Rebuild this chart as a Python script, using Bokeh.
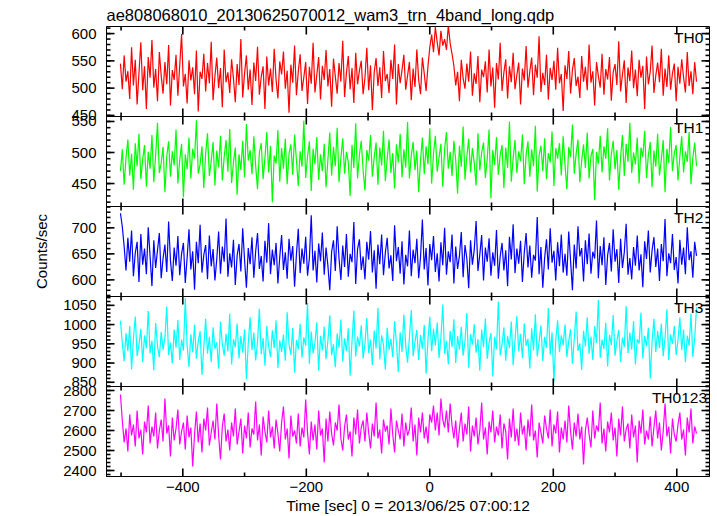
import numpy as np
from bokeh.plotting import figure
from bokeh.models import LinearAxis, Range1d, Label, FixedTicker
from bokeh.layouts import column
from bokeh.embed import file_html
from bokeh.resources import INLINE

# ---------------- data ----------------
title_text = "ae808068010_20130625070012_wam3_trn_4band_long.qdp"
x_label = "Time [sec] 0 = 2013/06/25 07:00:12"
y_label = "Counts/sec"

bin_start = -501.0   # time of first bin [s]
bin_width = 3.0      # bin size [s]

th0 = [
    545, 498, 560, 512, 531, 480, 575, 505, 552, 470, 528, 584,
    496, 540, 462, 557, 519, 588, 501, 535, 476, 566, 523, 490,
    548, 507, 579, 468, 533, 515, 561, 486, 542, 599, 503, 526,
    472, 551, 514, 538, 489, 569, 457, 530, 517, 563, 494, 546,
    509, 585, 478, 522, 556, 500, 537, 465, 571, 511, 529, 491,
    553, 518, 474, 544, 506, 590, 483, 527, 560, 497, 534, 469,
    547, 513, 576, 488, 521, 540, 462, 558, 505, 536, 493, 572,
    516, 481, 549, 525, 567, 499, 532, 455, 543, 510, 578, 487,
    530, 562, 495, 520, 548, 471, 539, 508, 583, 492, 524, 557,
    479, 541, 515, 570, 503, 535, 466, 554, 521, 490, 546, 512,
    587, 484, 528, 559, 498, 537, 473, 565, 507, 532, 550, 489,
    519, 574, 496, 542, 460, 529, 555, 504, 538, 482, 568, 513,
    526, 491, 552, 517, 580, 470, 544, 509, 533, 561, 497, 523,
    548, 478, 536, 502, 571, 515, 489, 556, 527, 495, 540, 575,
    598, 566, 612, 584, 560, 605, 578, 590, 570, 615, 582, 563,
    541, 505, 530, 476, 552, 518, 499, 545, 512, 567, 486, 527,
    508, 559, 474, 534, 520, 549, 492, 571, 503, 538, 464, 546,
    516, 583, 495, 529, 553, 481, 540, 511, 565, 498, 524, 547,
    470, 536, 514, 577, 501, 531, 556, 487, 543, 519, 595, 493,
    528, 506, 561, 479, 537, 515, 550, 497, 574, 509, 526, 458,
    542, 517, 568, 490, 533, 555, 504, 521, 482, 559, 512, 539,
    496, 580, 510, 531, 468, 548, 522, 501, 563, 488, 535, 516,
    557, 477, 529, 544, 506, 586, 494, 525, 551, 473, 538, 513,
    569, 500, 534, 485, 552, 519, 541, 462, 558, 507, 530, 578,
    491, 523, 547, 511, 572, 486, 536, 502, 560, 497, 527, 545,
    476, 539, 508, 553, 520, 492, 566, 504, 531, 489, 548, 512,
]

th1 = [
    470, 505, 448, 492, 521, 463, 498, 440, 515, 478, 530, 457,
    489, 512, 445, 501, 474, 528, 452, 496, 548, 467, 483, 509,
    436, 494, 518, 461, 502, 479, 537, 450, 488, 514, 428, 497,
    473, 524, 458, 506, 490, 552, 466, 481, 510, 443, 499, 531,
    462, 486, 517, 447, 503, 476, 527, 455, 493, 520, 469, 538,
    451, 484, 508, 432, 497, 472, 519, 460, 546, 487, 504, 465,
    526, 478, 441, 500, 515, 457, 491, 533, 468, 511, 420, 495,
    482, 536, 453, 507, 474, 522, 449, 498, 513, 464, 529, 488,
    446, 502, 477, 551, 459, 494, 518, 438, 506, 481, 525, 456,
    497, 470, 514, 444, 489, 532, 463, 509, 478, 540, 452, 491,
    523, 466, 501, 485, 430, 512, 475, 547, 458, 496, 519, 471,
    439, 504, 487, 528, 461, 493, 516, 448, 508, 479, 535, 454,
    490, 521, 467, 499, 442, 513, 484, 530, 460, 505, 476, 549,
    458, 495, 517, 472, 503, 436, 488, 524, 465, 510, 481, 539,
    450, 498, 527, 469, 492, 514, 445, 506, 533, 474, 501, 462,
    519, 487, 434, 511, 477, 542, 456, 494, 522, 468, 507, 483,
    447, 531, 471, 500, 516, 459, 489, 537, 426, 504, 480, 525,
    464, 496, 512, 443, 508, 475, 550, 453, 491, 520, 467, 502,
    486, 529, 449, 497, 518, 461, 505, 478, 543, 437, 495, 511,
    470, 523, 457, 499, 484, 534, 446, 507, 490, 515, 463, 526,
    480, 441, 509, 493, 545, 466, 498, 521, 452, 487, 513, 475,
    532, 458, 494, 506, 423, 501, 482, 527, 468, 510, 490, 539,
    455, 497, 519, 473, 504, 440, 492, 528, 462, 514, 485, 548,
    467, 500, 481, 524, 450, 508, 493, 535, 459, 496, 517, 444,
    503, 477, 530, 463, 489, 520, 436, 506, 483, 541, 470, 499,
    512, 455, 494, 526, 468, 502, 485, 533, 449, 491, 516, 478,
]

th2 = [
    728, 702, 664, 618, 681, 635, 695, 607, 652, 673, 596, 688,
    629, 660, 611, 701, 645, 588, 676, 623, 657, 690, 603, 641,
    668, 615, 712, 637, 598, 662, 627, 684, 609, 650, 671, 594,
    643, 697, 620, 655, 581, 673, 632, 706, 614, 648, 667, 601,
    685, 626, 659, 599, 640, 693, 612, 664, 635, 718, 606, 651,
    624, 677, 590, 647, 669, 616, 699, 638, 585, 661, 630, 682,
    604, 655, 690, 621, 646, 597, 675, 633, 709, 611, 658, 628,
    671, 593, 644, 686, 619, 653, 602, 679, 637, 665, 587, 649,
    698, 613, 660, 631, 683, 608, 642, 724, 618, 656, 595, 670,
    636, 691, 610, 662, 627, 580, 654, 676, 617, 703, 641, 600,
    666, 625, 688, 606, 650, 634, 711, 592, 659, 678, 619, 645,
    601, 673, 639, 694, 614, 657, 583, 668, 630, 687, 609, 652,
    681, 622, 647, 598, 705, 636, 663, 612, 674, 591, 648, 626,
    695, 607, 658, 632, 679, 603, 644, 716, 620, 661, 589, 669,
    638, 684, 615, 651, 597, 672, 628, 700, 610, 655, 634, 687,
    593, 664, 621, 646, 692, 605, 667, 641, 584, 676, 629, 658,
    713, 617, 649, 686, 599, 662, 635, 680, 608, 653, 627, 696,
    602, 645, 671, 618, 657, 588, 683, 639, 707, 613, 660, 631,
    675, 596, 652, 690, 624, 666, 604, 648, 637, 721, 611, 663,
    585, 642, 678, 620, 699, 633, 656, 599, 672, 626, 687, 614,
    650, 608, 693, 637, 580, 668, 622, 703, 645, 661, 597, 676,
    630, 689, 612, 654, 641, 714, 603, 665, 628, 682, 590, 647,
    671, 616, 697, 635, 659, 594, 679, 623, 653, 708, 610, 642,
    601, 663, 627, 685, 618, 649, 586, 674, 640, 695, 614, 657,
    682, 625, 660, 598, 669, 636, 717, 607, 651, 632, 688, 619,
    644, 593, 677, 629, 662, 611, 701, 638, 655, 604, 673, 646,
]

th3 = [
    1010, 952, 905, 978, 931, 996, 884, 963, 1021, 918, 947, 989,
    903, 972, 938, 1035, 926, 958, 881, 1004, 944, 915, 981, 935,
    966, 1047, 921, 953, 899, 987, 940, 1012, 908, 961, 932, 1069,
    946, 890, 975, 928, 1000, 911, 957, 983, 869, 942, 1015, 924,
    968, 902, 993, 937, 954, 885, 1008, 949, 919, 976, 930, 1028,
    896, 962, 941, 1003, 912, 970, 927, 988, 858, 951, 1019, 934,
    979, 907, 955, 1041, 923, 965, 893, 997, 943, 916, 985, 939,
    1011, 887, 959, 929, 974, 906, 1032, 948, 921, 991, 875, 960,
    936, 1002, 914, 967, 945, 1057, 898, 982, 925, 953, 1006, 880,
    971, 933, 995, 910, 958, 1024, 920, 949, 889, 977, 940, 1013,
    904, 964, 931, 990, 867, 956, 1036, 917, 969, 943, 998, 912,
    950, 1017, 926, 961, 895, 984, 938, 1044, 909, 972, 947, 883,
    992, 934, 963, 915, 1009, 952, 877, 980, 929, 1026, 944, 901,
    967, 1038, 918, 955, 986, 908, 973, 937, 999, 872, 960, 1020,
    931, 989, 946, 1005, 913, 966, 1052, 924, 958, 897, 983, 942,
    1014, 900, 970, 935, 994, 919, 957, 1030, 888, 975, 948, 1001,
    927, 962, 880, 987, 941, 1016, 911, 953, 978, 865, 968, 936,
    1060, 920, 949, 993, 906, 971, 939, 1008, 894, 960, 1022, 930,
    976, 913, 1003, 945, 963, 886, 990, 933, 1027, 917, 955, 998,
    905, 968, 940, 1043, 922, 980, 851, 959, 1011, 928, 972, 946,
    1000, 915, 957, 988, 898, 964, 1034, 932, 951, 882, 984, 943,
    1019, 924, 969, 908, 996, 952, 1064, 914, 961, 937, 1005, 891,
    973, 947, 1025, 919, 958, 986, 903, 966, 942, 1048, 926, 979,
    935, 1009, 896, 962, 951, 1031, 911, 970, 944, 992, 860, 956,
    1015, 929, 983, 939, 1002, 918, 965, 1040, 908, 974, 950, 997,
    921, 960, 1018, 934, 987, 902, 971, 945, 1029, 916, 963, 1045,
]

th0123 = [
    2780, 2650, 2540, 2610, 2495, 2680, 2575, 2630, 2520, 2700, 2560, 2605,
    2480, 2645, 2590, 2725, 2535, 2620, 2570, 2690, 2510, 2600, 2655, 2545,
    2760, 2585, 2625, 2470, 2665, 2550, 2610, 2705, 2530, 2595, 2640, 2505,
    2675, 2565, 2615, 2420, 2580, 2695, 2540, 2635, 2490, 2660, 2600, 2715,
    2525, 2590, 2650, 2555, 2735, 2575, 2455, 2620, 2685, 2545, 2605, 2500,
    2640, 2570, 2710, 2530, 2595, 2660, 2485, 2625, 2560, 2690, 2515, 2610,
    2580, 2745, 2550, 2630, 2475, 2670, 2595, 2540, 2700, 2565, 2620, 2510,
    2655, 2585, 2495, 2640, 2720, 2555, 2610, 2460, 2675, 2570, 2600, 2535,
    2685, 2520, 2615, 2565, 2755, 2590, 2480, 2645, 2550, 2630, 2505, 2700,
    2575, 2610, 2440, 2660, 2545, 2695, 2585, 2525, 2640, 2600, 2730, 2560,
    2500, 2620, 2680, 2555, 2595, 2470, 2665, 2580, 2705, 2535, 2615, 2650,
    2545, 2690, 2590, 2510, 2635, 2570, 2740, 2560, 2605, 2485, 2655, 2595,
    2625, 2530, 2710, 2580, 2490, 2650, 2600, 2555, 2685, 2520, 2640, 2575,
    2605, 2715, 2545, 2630, 2475, 2665, 2590, 2690, 2560, 2620, 2535, 2680,
    2640, 2725, 2600, 2690, 2575, 2760, 2655, 2615, 2700, 2590, 2735, 2625,
    2560, 2650, 2515, 2610, 2690, 2545, 2635, 2580, 2720, 2495, 2625, 2570,
    2665, 2530, 2600, 2740, 2555, 2615, 2480, 2645, 2590, 2700, 2540, 2620,
    2575, 2680, 2510, 2635, 2595, 2455, 2660, 2565, 2710, 2545, 2610, 2525,
    2690, 2580, 2625, 2500, 2655, 2570, 2730, 2550, 2600, 2465, 2640, 2590,
    2535, 2675, 2610, 2560, 2705, 2520, 2630, 2585, 2695, 2490, 2615, 2555,
    2650, 2540, 2725, 2595, 2505, 2640, 2570, 2685, 2555, 2620, 2430, 2600,
    2665, 2580, 2515, 2700, 2560, 2625, 2595, 2740, 2535, 2610, 2495, 2645,
    2590, 2690, 2550, 2615, 2470, 2660, 2575, 2720, 2545, 2605, 2635, 2510,
    2680, 2565, 2625, 2440, 2650, 2585, 2705, 2530, 2600, 2555, 2670, 2520,
    2615, 2700, 2560, 2640, 2500, 2595, 2735, 2570, 2620, 2485, 2660, 2580,
    2545, 2630, 2690, 2555, 2605, 2475, 2665, 2590, 2710, 2535, 2620, 2585,
]

band_names = ["TH0", "TH1", "TH2", "TH3", "TH0123"]
band_colors = ["#ff0000", "#00ff00", "#0000ff", "#00ffff", "#ff00ff"]
band_values = [th0, th1, th2, th3, th0123]
band_yranges = [(448, 613), (413, 558), (568, 741), (839, 1073), (2370, 2820)]
band_yticks = [[450, 500, 550, 600], [450, 500, 550], [600, 650, 700],
               [850, 900, 950, 1000, 1050], [2400, 2500, 2600, 2700, 2800]]
band_yminor_step = [10, 10, 10, 10, 20]

x_range_limits = (-523.6, 453.0)
x_ticks = [-400, -200, 0, 200, 400]
x_minor_ticks = [-500, -300, -100, 100, 300]
x_tick_labels = {-400: "\u2212400", -200: "\u2212200", 0: "0", 200: "200", 400: "400"}

# ---------------- drawing ----------------
FONT = "Liberation Sans"
time = bin_start + bin_width * np.arange(len(th0))
xr = Range1d(*x_range_limits)

LEFT = 106      # frame left edge in the page
RIGHT = 6
W = 709 + RIGHT
FRAME_H = 90
TOP = 26        # room for the title
BOTTOM = 40     # room for the time axis
PAD = 10        # transparent overlap so edge tick labels are not cut
MAJOR_LEN = 8   # inward tick lengths, screen px
MINOR_LEN = 4
TICK_W = 1.6


def no_ticks(ax):
    ax.major_tick_in = 0
    ax.major_tick_out = 0
    ax.minor_tick_in = 0
    ax.minor_tick_out = 0
    ax.axis_line_color = "black"
    ax.major_label_text_font = FONT
    ax.major_label_text_font_size = "15px"
    ax.major_label_text_color = "black"


def inward_ticks(p, positions, edge, horizontal, angle, length):
    """Tick marks drawn from a frame edge into the plot area."""
    if horizontal:
        xs, ys = [edge] * len(positions), positions
    else:
        xs, ys = positions, [edge] * len(positions)
    p.ray(x=xs, y=ys, length=length, length_units="screen", angle=angle,
          line_color="black", line_width=TICK_W, level="overlay")


figs = []
n = len(band_names)
for i in range(n):
    first = i == 0
    last = i == n - 1
    btop = TOP if first else PAD
    bbot = BOTTOM if last else PAD
    y0, y1 = band_yranges[i]
    p = figure(width=W, height=btop + FRAME_H + bbot, x_range=xr,
               y_range=Range1d(y0, y1),
               output_backend="svg", toolbar_location=None,
               x_axis_location=None, y_axis_location=None,
               min_border_left=LEFT, min_border_right=RIGHT,
               min_border_top=btop, min_border_bottom=bbot,
               margin=(0 if first else -2 * PAD, 0, 0, 0))
    p.border_fill_alpha = 0
    p.background_fill_color = "white"
    p.outline_line_color = "black"
    p.outline_line_width = 1
    p.grid.visible = False

    p.line(time, band_values[i], color=band_colors[i], line_width=1.2)

    yt = band_yticks[i]
    step = band_yminor_step[i]
    yminor = list(range(int(np.ceil(y0 / step) * step), int(y1) + 1, step))

    # tick marks on all four sides, pointing inward
    x0, x1 = x_range_limits
    inward_ticks(p, yminor, x0, True, 0.0, MINOR_LEN)
    inward_ticks(p, yt, x0, True, 0.0, MAJOR_LEN)
    inward_ticks(p, yminor, x1, True, np.pi, MINOR_LEN)
    inward_ticks(p, yt, x1, True, np.pi, MAJOR_LEN)
    inward_ticks(p, x_minor_ticks, y0, False, np.pi / 2, MINOR_LEN)
    inward_ticks(p, x_ticks, y0, False, np.pi / 2, MAJOR_LEN)
    inward_ticks(p, x_minor_ticks, y1, False, -np.pi / 2, MINOR_LEN)
    inward_ticks(p, x_ticks, y1, False, -np.pi / 2, MAJOR_LEN)

    left = LinearAxis(ticker=FixedTicker(ticks=yt, minor_ticks=yminor))
    no_ticks(left)
    left.major_label_standoff = 10
    if i == 2:
        left.axis_label = y_label
        left.axis_label_text_font = FONT
        left.axis_label_text_font_size = "15px"
        left.axis_label_text_font_style = "normal"
        left.axis_label_text_color = "black"
        left.axis_label_standoff = 18
    p.add_layout(left, "left")

    if last:
        bottom = LinearAxis(ticker=FixedTicker(ticks=x_ticks, minor_ticks=x_minor_ticks))
        no_ticks(bottom)
        bottom.major_label_overrides = x_tick_labels
        bottom.major_label_standoff = 5
        bottom.axis_label = x_label
        bottom.axis_label_text_font = FONT
        bottom.axis_label_text_font_size = "15.5px"
        bottom.axis_label_text_font_style = "normal"
        bottom.axis_label_text_color = "black"
        bottom.axis_label_standoff = 2
        p.add_layout(bottom, "below")

    if first:
        p.title.text = title_text
        p.title.text_font = FONT
        p.title.text_font_size = "16.5px"
        p.title.text_font_style = "normal"
        p.title.text_color = "black"
        p.title.align = "left"
        p.title.standoff = 5

    lab = Label(x=449 if last else 443, y=y1, text=band_names[i],
                text_align="right", text_baseline="top", y_offset=-2,
                text_font=FONT, text_font_size="15.5px", text_color="black")
    p.add_layout(lab)
    figs.append(p)

layout = column(*figs, spacing=0)
open("out.html", "w").write(file_html(layout, INLINE))
